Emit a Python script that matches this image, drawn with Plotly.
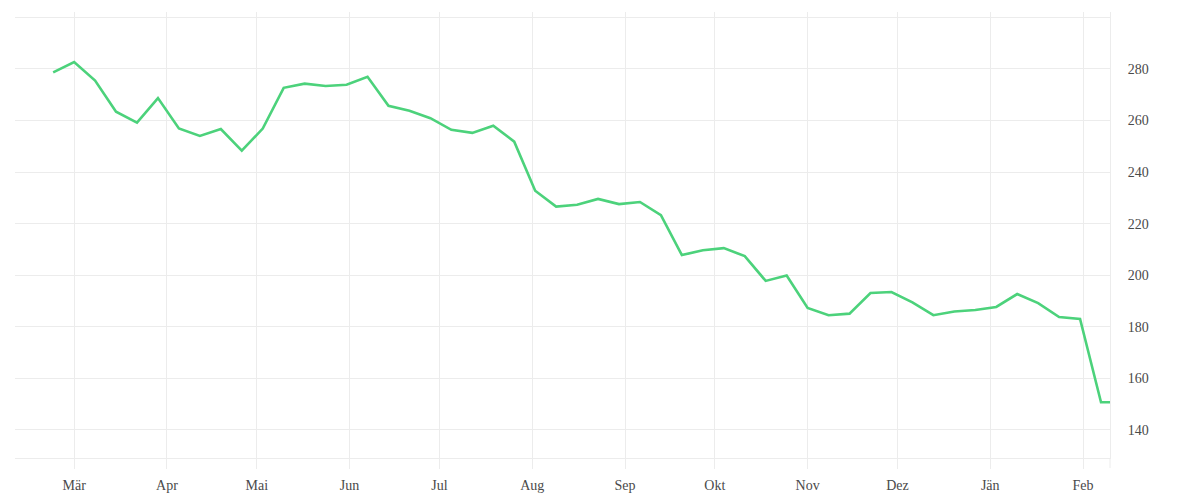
import plotly.graph_objects as go

# weekly values
dates = [
    "2022-02-22", "2022-03-01", "2022-03-08", "2022-03-15", "2022-03-22", "2022-03-29",
    "2022-04-05", "2022-04-12", "2022-04-19", "2022-04-26", "2022-05-03", "2022-05-10",
    "2022-05-17", "2022-05-24", "2022-05-31", "2022-06-07", "2022-06-14", "2022-06-21",
    "2022-06-28", "2022-07-05", "2022-07-12", "2022-07-19", "2022-07-26", "2022-08-02",
    "2022-08-09", "2022-08-16", "2022-08-23", "2022-08-30", "2022-09-06", "2022-09-13",
    "2022-09-20", "2022-09-27", "2022-10-04", "2022-10-11", "2022-10-18", "2022-10-25",
    "2022-11-01", "2022-11-08", "2022-11-15", "2022-11-22", "2022-11-29", "2022-12-06",
    "2022-12-13", "2022-12-20", "2022-12-27", "2023-01-03", "2023-01-10", "2023-01-17",
    "2023-01-24", "2023-01-31", "2023-02-07", "2023-02-10",
]
values = [
    278.7, 282.7, 275.5, 263.4, 259.2, 268.7, 256.9, 254.0, 256.7, 248.3,
    256.9, 272.7, 274.3, 273.4, 273.9, 277.0, 265.7, 263.8, 260.9, 256.4,
    255.2, 258.0, 251.8, 232.8, 226.6, 227.3, 229.6, 227.6, 228.4, 223.3,
    207.8, 209.7, 210.5, 207.4, 197.8, 199.9, 187.3, 184.5, 185.1, 193.1,
    193.5, 189.5, 184.5, 185.9, 186.5, 187.7, 192.7, 189.2, 183.8, 183.0,
    150.7, 150.7,
]

month_ticks = [
    "2022-03-01", "2022-04-01", "2022-05-01", "2022-06-01", "2022-07-01", "2022-08-01",
    "2022-09-01", "2022-10-01", "2022-11-01", "2022-12-01", "2023-01-01", "2023-02-01",
]
month_labels = ["Mär", "Apr", "Mai", "Jun", "Jul", "Aug", "Sep", "Okt", "Nov", "Dez", "Jän", "Feb"]

y_ticks = [140, 160, 180, 200, 220, 240, 260, 280, 300]
y_labels = ["140", "160", "180", "200", "220", "240", "260", "280", ""]

grid = "#ececec"
font = dict(family="Liberation Serif", size=14, color="#4a4a4a")

fig = go.Figure()
fig.add_trace(go.Scatter(x=dates, y=values, mode="lines",
                         line=dict(color="#4cd27b", width=2.6), hoverinfo="x+y"))

# page is drawn with an 8px body offset, so margins are shifted by that
fig.update_layout(
    width=1200, height=500,
    margin=dict(l=7, r=98, t=4, b=50),
    paper_bgcolor="white", plot_bgcolor="white",
    showlegend=False,
    font=font,
    xaxis=dict(
        range=["2022-02-09 06:00", "2023-02-10"],
        tickvals=month_ticks, ticktext=month_labels,
        showgrid=True, gridcolor=grid, gridwidth=1,
        showline=True, linecolor=grid, linewidth=1,
        ticks="outside", ticklen=10, tickcolor=grid,
        ticklabelstandoff=4,
        zeroline=False,
    ),
    yaxis=dict(
        range=[129.1, 302.1],
        side="right",
        tickvals=y_ticks, ticktext=y_labels,
        showgrid=True, gridcolor=grid, gridwidth=1,
        showline=True, linecolor=grid, linewidth=1,
        ticks="", ticklabelstandoff=14,
        zeroline=False,
    ),
)

# little extension of the right border below the axis line
fig.add_shape(type="line", xref="paper", x0=1, x1=1,
              yref="paper", ysizemode="pixel", yanchor=0, y0=-10, y1=0,
              line=dict(color=grid, width=1))

fig.write_html("out.html")
